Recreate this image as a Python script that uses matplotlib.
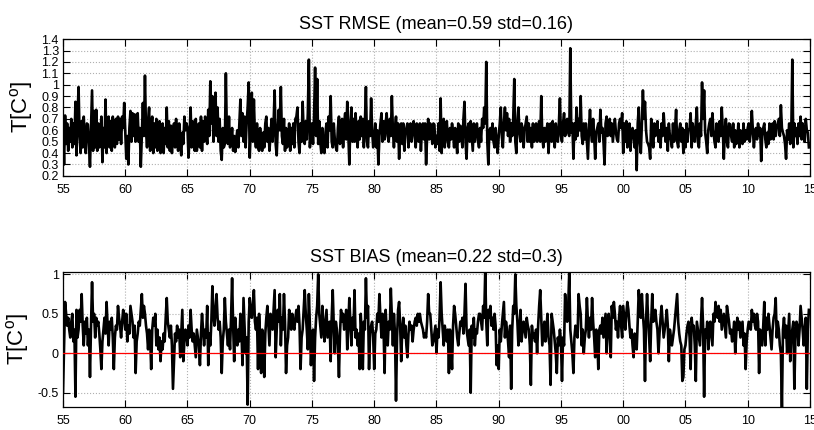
import numpy as np
import matplotlib
matplotlib.use("Agg")
import matplotlib.pyplot as plt

plt.rcParams["font.family"] = ["Liberation Sans", "DejaVu Sans"]
plt.rcParams["mathtext.default"] = "regular"

# ================== data (monthly, 1955-2014) ==================
start_year = 1955

rmse = [
    0.65, 0.30, 0.73, 0.48, 0.66, 0.42, 0.62, 0.50, 0.70, 0.45, 0.66, 0.48,
    0.85, 0.38, 0.72, 0.98, 0.55, 0.40, 0.68, 0.45, 0.72, 0.50, 0.40, 0.66,
    0.65, 0.48, 0.28, 0.60, 0.95, 0.42, 0.77, 0.45, 0.78, 0.42, 0.66, 0.45,
    0.55, 0.72, 0.32, 0.62, 0.45, 0.87, 0.40, 0.66, 0.72, 0.45, 0.68, 0.42,
    0.72, 0.50, 0.45, 0.70, 0.48, 0.72, 0.52, 0.70, 0.48, 0.72, 0.62, 0.84,
    0.60, 0.35, 0.55, 0.30, 0.62, 0.77, 0.50, 0.75, 0.55, 0.74, 0.50, 0.70,
    0.75, 0.50, 0.62, 0.28, 0.55, 0.84, 0.55, 1.08, 0.60, 0.45, 0.68, 0.80,
    0.42, 0.62, 0.72, 0.40, 0.66, 0.45, 0.70, 0.42, 0.62, 0.68, 0.40, 0.55,
    0.66, 0.40, 0.62, 0.48, 0.80, 0.45, 0.68, 0.42, 0.64, 0.40, 0.58, 0.66,
    0.45, 0.70, 0.50, 0.42, 0.66, 0.48, 0.38, 0.58, 0.48, 0.72, 0.60, 0.66,
    0.62, 0.36, 0.55, 0.80, 0.45, 0.68, 0.50, 0.42, 0.70, 0.42, 0.55, 0.66,
    0.45, 0.72, 0.42, 0.68, 0.50, 0.72, 0.62, 0.48, 0.78, 0.55, 1.03, 0.66,
    0.90, 0.50, 0.66, 0.93, 0.55, 0.80, 0.50, 0.70, 0.42, 0.34, 0.62, 0.45,
    0.48, 1.10, 0.55, 0.48, 0.72, 0.45, 0.50, 0.62, 0.42, 0.55, 0.41, 0.52,
    0.60, 0.45, 0.66, 0.87, 0.55, 0.75, 0.50, 0.72, 0.45, 0.66, 0.80, 1.02,
    0.36, 0.62, 0.93, 0.50, 0.87, 0.55, 0.45, 0.66, 0.45, 0.42, 0.62, 0.48,
    0.42, 0.58, 0.45, 0.66, 0.72, 0.50, 0.62, 0.42, 0.55, 0.70, 0.50, 0.66,
    0.95, 0.48, 0.38, 0.62, 0.78, 0.60, 0.98, 0.55, 0.48, 0.70, 0.42, 0.62,
    0.45, 0.50, 0.66, 0.42, 0.62, 0.48, 0.66, 0.45, 0.70, 0.72, 0.80, 0.50,
    0.40, 0.66, 0.50, 0.85, 0.58, 0.48, 0.68, 0.52, 0.75, 1.22, 0.45, 0.62,
    0.66, 0.48, 0.72, 1.15, 0.55, 1.05, 0.48, 0.68, 0.50, 0.40, 0.62, 0.45,
    0.40, 0.58, 0.66, 0.45, 0.72, 0.60, 0.90, 0.50, 0.45, 0.66, 0.52, 0.45,
    0.42, 0.62, 0.72, 0.48, 0.60, 0.70, 0.45, 0.66, 0.75, 0.52, 0.85, 0.58,
    0.30, 0.66, 0.80, 0.50, 0.70, 0.50, 0.75, 0.58, 0.45, 0.68, 0.52, 0.72,
    0.55, 0.70, 0.45, 0.66, 0.98, 0.50, 0.45, 0.68, 0.55, 0.88, 0.60, 0.45,
    0.52, 0.66, 0.45, 0.60, 0.30, 0.55, 0.66, 0.75, 0.50, 0.68, 0.52, 0.66,
    0.75, 0.55, 0.50, 0.70, 0.55, 0.90, 0.60, 0.45, 0.62, 0.72, 0.50, 0.66,
    0.35, 0.60, 0.66, 0.48, 0.66, 0.42, 0.58, 0.62, 0.66, 0.45, 0.62, 0.66,
    0.50, 0.62, 0.68, 0.55, 0.45, 0.66, 0.55, 0.50, 0.66, 0.42, 0.60, 0.66,
    0.52, 0.66, 0.30, 0.55, 0.70, 0.52, 0.66, 0.60, 0.48, 0.66, 0.65, 0.45,
    0.55, 0.48, 0.66, 0.42, 0.88, 0.40, 0.66, 0.70, 0.45, 0.60, 0.68, 0.50,
    0.45, 0.62, 0.52, 0.66, 0.58, 0.45, 0.62, 0.50, 0.40, 0.66, 0.50, 0.64,
    0.55, 0.45, 0.70, 0.85, 0.50, 0.35, 0.62, 0.66, 0.50, 0.68, 0.55, 0.42,
    0.66, 0.50, 0.60, 0.66, 0.52, 0.45, 0.62, 0.50, 0.70, 0.62, 0.80, 0.66,
    1.20, 0.50, 0.30, 0.60, 0.62, 0.52, 0.66, 0.50, 0.45, 0.62, 0.50, 0.40,
    0.55, 0.66, 0.80, 0.55, 0.45, 0.66, 0.80, 0.60, 0.75, 0.55, 0.70, 0.50,
    0.66, 0.55, 0.70, 1.05, 0.50, 0.40, 0.66, 0.80, 0.58, 0.50, 0.66, 0.62,
    0.45, 0.60, 0.66, 0.72, 0.50, 0.66, 0.50, 0.62, 0.45, 0.66, 0.50, 0.60,
    0.66, 0.50, 0.60, 0.68, 0.50, 0.90, 0.55, 0.45, 0.62, 0.50, 0.60, 0.66,
    0.40, 0.60, 0.66, 0.50, 0.68, 0.55, 0.45, 0.66, 0.55, 0.50, 0.66, 0.88,
    0.55, 0.50, 0.66, 0.75, 0.55, 0.62, 0.70, 0.58, 0.55, 1.32, 0.58, 0.66,
    0.35, 0.66, 0.52, 0.80, 0.55, 0.70, 0.60, 0.90, 0.55, 0.48, 0.66, 0.52,
    0.66, 0.50, 0.35, 0.62, 0.78, 0.58, 0.50, 0.70, 0.55, 0.35, 0.58, 0.62,
    0.66, 0.50, 0.78, 0.58, 0.62, 0.50, 0.30, 0.66, 0.72, 0.55, 0.62, 0.70,
    0.55, 0.66, 0.50, 0.60, 0.70, 0.58, 0.52, 0.50, 0.66, 0.70, 0.62, 0.75,
    0.40, 0.66, 0.50, 0.68, 0.45, 0.60, 0.66, 0.42, 0.58, 0.62, 0.55, 0.45,
    0.60, 0.25, 0.66, 0.80, 0.50, 0.40, 0.66, 0.95, 0.70, 0.85, 0.60, 0.50,
    0.48, 0.45, 0.35, 0.70, 0.55, 0.45, 0.66, 0.55, 0.62, 0.68, 0.50, 0.60,
    0.45, 0.66, 0.55, 0.75, 0.60, 0.50, 0.62, 0.42, 0.66, 0.55, 0.52, 0.45,
    0.66, 0.50, 0.62, 0.78, 0.50, 0.45, 0.60, 0.66, 0.50, 0.62, 0.40, 0.60,
    0.45, 0.66, 0.50, 0.60, 0.62, 0.75, 0.45, 0.66, 0.55, 0.50, 0.66, 0.80,
    0.50, 0.45, 0.66, 0.55, 1.02, 0.70, 0.95, 0.58, 0.50, 0.40, 0.60, 0.66,
    0.70, 0.55, 0.75, 0.60, 0.50, 0.45, 0.66, 0.55, 0.50, 0.68, 0.55, 0.80,
    0.60, 0.35, 0.60, 0.70, 0.50, 0.45, 0.66, 0.65, 0.55, 0.50, 0.66, 0.45,
    0.60, 0.48, 0.52, 0.66, 0.45, 0.60, 0.52, 0.48, 0.66, 0.50, 0.60, 0.52,
    0.62, 0.66, 0.50, 0.60, 0.77, 0.60, 0.45, 0.58, 0.62, 0.52, 0.66, 0.55,
    0.62, 0.33, 0.55, 0.62, 0.66, 0.52, 0.45, 0.58, 0.48, 0.66, 0.52, 0.60,
    0.66, 0.52, 0.68, 0.55, 0.62, 0.66, 0.70, 0.55, 0.82, 0.62, 0.58, 0.55,
    0.48, 0.35, 0.60, 0.52, 0.66, 0.48, 0.55, 1.22, 0.45, 0.66, 0.55, 0.62,
    0.48, 0.66, 0.55, 0.72, 0.52, 0.66, 0.55, 0.50, 0.70, 0.60, 0.58, 0.45,
]

bias = [
    -0.50, 0.10, 0.65, 0.50, 0.35, 0.45, 0.30, 0.20, 0.40, 0.50, 0.15, 0.30,
    -0.55, 0.55, 0.20, 0.30, 0.55, 0.40, 0.75, 0.35, 0.10, 0.40, 0.25, 0.45,
    0.10, 0.30, -0.30, 0.35, 0.90, 0.40, 0.50, 0.20, 0.45, 0.35, 0.40, 0.25,
    0.05, -0.20, 0.15, 0.30, 0.45, 0.25, 0.65, 0.35, 0.10, 0.40, 0.30, 0.45,
    0.20, -0.20, 0.20, 0.35, 0.30, 0.60, 0.45, 0.35, 0.20, 0.40, 0.55, 0.45,
    0.30, 0.50, 0.15, 0.35, 0.25, 0.60, 0.50, 0.40, 0.20, 0.35, -0.25, 0.15,
    0.25, 0.40, 0.35, 0.55, 0.75, 0.45, 0.60, 0.50, 0.35, 0.25, 0.05, 0.30,
    0.20, -0.20, 0.30, 0.45, 0.35, 0.50, 0.10, 0.30, 0.05, 0.20, -0.10, 0.15,
    0.05, 0.25, 0.15, 0.45, 0.70, 0.40, 0.30, 0.20, 0.35, 0.10, -0.45, -0.10,
    0.25, 0.15, 0.35, 0.20, 0.30, -0.05, 0.25, 0.55, -0.10, 0.15, 0.30, 0.25,
    0.10, 0.35, 0.20, 0.55, 0.30, 0.15, 0.25, 0.10, -0.05, 0.30, 0.20, 0.10,
    -0.15, 0.25, 0.50, 0.30, 0.10, 0.30, 0.20, 0.60, -0.15, 0.25, 0.10, 0.40,
    0.85, 0.50, 0.35, 0.55, 0.75, 0.45, 0.30, 0.40, 0.20, -0.25, 0.15, 0.30,
    0.70, 0.40, 0.25, 0.10, 0.30, 0.05, 0.45, 0.95, 0.35, -0.10, 0.45, 0.25,
    0.10, 0.30, 0.15, 0.50, 0.30, -0.15, 0.70, 0.35, 0.00, 0.20, -0.65, 0.40,
    0.70, 0.55, 0.45, 0.60, 0.80, 0.40, 0.30, 0.45, -0.20, 0.50, 0.20, -0.25,
    0.30, 0.10, -0.30, 0.25, 0.45, 0.60, 0.35, 0.10, 0.50, 0.40, 0.30, 0.55,
    0.80, -0.05, 0.30, 0.55, 0.40, 0.75, 0.10, 0.45, 0.30, 0.75, 0.40, -0.25,
    0.10, 0.20, 0.55, 0.40, 0.30, 0.50, 0.35, 0.30, 0.45, 0.55, 0.40, 0.60,
    0.35, -0.20, 0.20, 0.30, 0.55, 0.80, 0.50, 0.30, 0.05, 0.75, 0.35, -0.15,
    0.15, 0.30, -0.35, 0.20, 0.45, 0.60, 1.00, 0.50, 0.35, 0.20, 0.60, 0.40,
    0.15, 0.35, 0.55, 0.20, 0.30, 0.40, -0.10, 0.45, 0.80, 0.35, 0.00, 0.40,
    0.30, 0.10, -0.30, 0.25, 0.55, 0.40, 0.50, 0.30, 0.40, 0.55, 0.05, 0.35,
    0.70, 0.40, 0.10, 0.45, 0.30, 0.80, 0.20, 0.30, 0.10, 0.25, -0.20, 0.50,
    0.25, -0.20, 0.40, 0.30, 0.95, 0.45, 0.60, -0.20, 0.25, 0.35, 0.40, 0.20,
    -0.20, 0.25, 0.30, 0.50, 0.40, 0.75, 0.45, 0.20, 0.50, 0.30, -0.25, 0.55,
    0.30, 0.10, 0.40, 0.30, 0.82, 0.45, 0.10, 0.50, 0.25, -0.60, 0.20, 0.55,
    0.65, 0.35, -0.10, 0.30, 0.45, 0.20, 0.35, 0.10, -0.05, 0.25, 0.40, 0.30,
    0.35, 0.15, 0.30, 0.40, 0.45, 0.35, 0.50, 0.40, 0.50, 0.40, 0.35, 0.30,
    0.20, 0.25, 0.20, 0.40, 0.75, 0.50, 0.50, 0.30, 0.10, 0.15, 0.25, 0.35,
    0.00, 0.30, 0.20, 0.45, 0.90, 0.50, 0.30, 0.10, 0.35, 0.25, 0.15, 0.30,
    -0.25, 0.30, 0.10, -0.20, 0.35, 0.60, 0.50, 0.35, 0.20, 0.10, 0.25, 0.40,
    0.35, 0.45, 0.25, 0.50, 0.88, 0.30, 0.20, 0.10, 0.30, -0.50, 0.35, 0.20,
    0.45, 0.10, 0.30, 0.25, 0.40, 0.50, 0.50, 0.40, 0.30, 0.60, 0.45, 1.03,
    0.40, 0.10, 0.55, 0.45, 0.60, 0.35, 0.45, 0.30, 0.50, 0.35, -0.15, 0.10,
    -0.20, 0.30, 0.15, 0.35, 0.50, 0.65, 0.20, 0.40, 0.30, 0.15, -0.05, 0.35,
    -0.45, 0.30, 0.60, 0.50, 1.00, 0.60, 0.40, 0.10, 0.30, 0.55, 0.15, 0.30,
    0.40, 0.30, 0.20, 0.45, 0.35, 0.30, 0.10, -0.40, 0.35, 0.20, 0.25, 0.15,
    0.30, 0.00, 0.35, 0.60, 0.80, 0.45, 0.10, 0.25, 0.40, 0.15, 0.30, 0.50,
    0.20, 0.10, -0.40, 0.50, 0.40, 0.30, 0.15, 0.00, -0.25, 0.20, 0.10, 0.30,
    0.15, -0.35, 0.20, 0.10, 0.75, 0.55, 0.40, 0.60, 1.03, 0.30, 0.15, 0.00,
    -0.25, 0.20, 0.35, 0.25, 0.20, 0.75, 0.60, 0.50, 0.10, 0.30, 0.00, 0.20,
    0.30, 0.70, 0.40, 0.20, 0.45, 0.30, 0.70, 0.40, 0.20, -0.05, 0.30, 0.20,
    -0.20, 0.30, 0.35, 0.25, 0.45, 0.20, 0.35, 0.50, 0.00, 0.30, 0.50, 0.25,
    -0.05, 0.60, 0.45, 0.65, 0.50, 0.30, 0.40, 0.20, 0.45, 0.60, 0.35, 0.20,
    0.60, 0.45, 0.30, 0.50, 0.65, 0.55, 0.35, 0.20, 0.30, 0.10, -0.05, 0.25,
    0.20, 0.05, 0.40, 0.80, 0.60, 0.45, 0.75, 0.50, 0.30, -0.35, 0.40, 0.75,
    0.45, 0.20, -0.10, 0.40, 0.75, 0.40, 0.50, 0.55, 0.40, 0.30, 0.00, 0.25,
    0.45, 0.60, 0.40, 0.20, 0.30, 0.40, 0.55, 0.35, -0.10, 0.30, 0.20, 0.10,
    0.20, 0.30, 0.45, 0.60, 0.75, 0.40, 0.25, 0.15, 0.10, -0.35, -0.30, 0.05,
    0.10, 0.25, 0.35, 0.40, 0.20, -0.20, 0.45, 0.30, 0.35, 0.10, -0.35, 0.40,
    0.30, 0.20, 0.10, 0.40, 0.70, 0.35, -0.55, 0.30, 0.20, 0.40, 0.05, 0.25,
    0.40, 0.25, 0.10, 0.50, 0.40, 0.65, 0.50, 0.45, 0.60, 0.40, 0.55, 0.30,
    0.40, 0.50, 0.35, 0.20, 0.60, 0.50, 0.40, 0.25, 0.30, 0.15, 0.25, 0.40,
    0.00, 0.25, 0.45, 0.30, 0.40, 0.20, 0.30, 0.40, 0.10, 0.25, -0.20, 0.15,
    0.30, 0.40, 0.35, 0.30, 0.55, 0.40, 0.50, 0.35, 0.30, 0.50, 0.40, -0.25,
    0.30, 0.20, 0.10, 0.35, 0.65, 0.10, 0.45, 0.30, 0.50, 0.35, 0.20, 0.05,
    0.30, 0.45, 0.50, 0.70, 0.20, 0.40, 0.30, 0.10, 0.00, -0.70, 0.30, 0.45,
    0.20, 0.35, 0.00, 0.25, 0.50, -0.10, 0.20, 0.30, 0.40, -0.45, 0.20, 0.40,
    0.35, 0.10, 0.30, 0.60, 0.45, 0.30, 0.10, 0.30, 0.45, -0.45, 0.30, 0.55,
]

xtick_years = list(range(1955, 2016, 5))
xtick_labels = ["55", "60", "65", "70", "75", "80", "85", "90", "95",
                "00", "05", "10", "15"]
rmse_yticks = [0.2, 0.3, 0.4, 0.5, 0.6, 0.7, 0.8, 0.9, 1.0, 1.1, 1.2, 1.3, 1.4]
rmse_ylabels = ["0.2", "0.3", "0.4", "0.5", "0.6", "0.7", "0.8", "0.9", "1",
                "1.1", "1.2", "1.3", "1.4"]
bias_yticks = [-0.5, 0, 0.5, 1]
bias_ylabels = ["-0.5", "0", "0.5", "1"]

time = start_year + np.arange(len(rmse)) / 12.0

# ================== figure ==================
fig = plt.figure(figsize=(8.14, 4.30), dpi=100)
ax1 = fig.add_axes([0.0774, 0.591, 0.9176, 0.318])
ax2 = fig.add_axes([0.0774, 0.0535, 0.9176, 0.314])


def style_axis(ax, yticks, ylabels):
    ax.set_xlim(1955, 2015)
    ax.set_xticks(xtick_years)
    ax.set_xticklabels(xtick_labels)
    ax.set_yticks(yticks)
    ax.set_yticklabels(ylabels)
    ax.tick_params(direction="in", length=5, width=0.8, top=True, right=True,
                   labelsize=9, pad=6)
    ax.tick_params(axis="y", pad=3)
    ax.grid(True, linestyle=":", color="#b0b0b0", linewidth=0.8)
    ax.set_axisbelow(True)
    for s in ax.spines.values():
        s.set_linewidth(0.9)
    ax.set_ylabel("T[C$^o$]", fontsize=16, labelpad=5)


# ---------- RMSE ----------
ax1.plot(time, rmse, color="black", linewidth=1.9)
ax1.set_ylim(0.2, 1.4)
style_axis(ax1, rmse_yticks, rmse_ylabels)
ax1.set_title("SST RMSE (mean=0.59 std=0.16)", fontsize=13, pad=7)

# ---------- BIAS ----------
ax2.plot(time, bias, color="black", linewidth=1.9)
ax2.axhline(0, color="red", linewidth=0.9, zorder=3)
ax2.set_ylim(-0.68, 1.03)
style_axis(ax2, bias_yticks, bias_ylabels)
ax2.set_title("SST BIAS (mean=0.22 std=0.3)", fontsize=13, pad=7)

fig.savefig("out.png", dpi=100)
